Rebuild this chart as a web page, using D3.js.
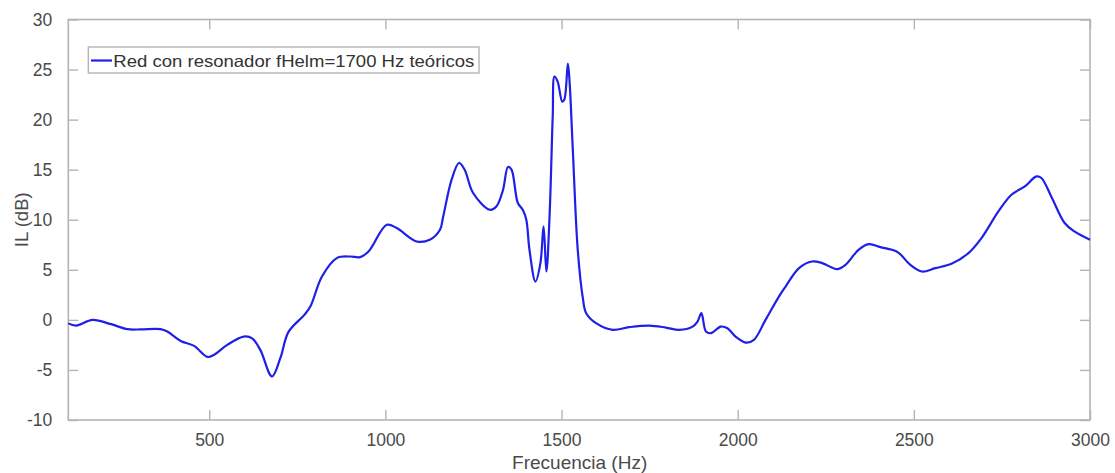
<!DOCTYPE html>
<html>
<head>
<meta charset="utf-8">
<script src="https://cdn.jsdelivr.net/npm/d3@7"></script>
<style>
  html, body { margin: 0; padding: 0; background: #fff; }
  svg { display: block; }
  text { font-family: Arial, "Liberation Sans", sans-serif; }
</style>
</head>
<body>
<svg id="chart" width="1115" height="473"></svg>
<script>
// Insertion loss of the network with a Helmholtz resonator
const freqHz = [100,122,169,221,268,306,362,381,419,457,495,513,551,598,622,645,678,702,725,770,787,820,862,900,928,952,1004,1032,1089,1126,1155,1164,1188,1209,1225,1249,1296,1315,1334,1348,1358,1376,1390,1400,1409,1426,1440,1449,1457,1466,1475,1480,1489,1502,1508,1518,1523,1532,1546,1560,1570,1598,1645,1692,1749,1796,1834,1872,1886,1897,1910,1924,1952,1971,1994,2023,2046,2079,2117,2136,2174,2211,2240,2282,2306,2343,2372,2405,2438,2457,2490,2523,2561,2607,2655,2692,2740,2777,2815,2848,2862,2890,2928,2956,3000];
const ilDb = [-0.35,-0.57,0.0,-0.43,-0.93,-0.95,-0.93,-1.17,-2.1,-2.6,-3.7,-3.5,-2.5,-1.67,-1.85,-3.0,-5.65,-3.8,-1.2,0.5,1.33,4.33,6.17,6.33,6.27,6.83,9.5,9.17,7.83,8.0,9.0,10.3,14.0,15.67,15.0,12.67,11.0,11.33,13.0,15.27,15.0,11.67,11.0,10.0,7.0,3.83,5.67,9.33,4.83,10.33,20.33,24.3,23.8,21.8,22.0,25.6,23.67,17.0,7.0,2.3,0.67,-0.33,-1.0,-0.73,-0.57,-0.77,-1.0,-0.67,-0.17,0.67,-1.17,-1.33,-0.67,-0.83,-1.67,-2.27,-2.0,0.0,2.33,3.33,5.17,5.83,5.67,5.07,5.5,7.0,7.57,7.27,7.0,6.7,5.5,4.83,5.17,5.6,6.67,8.17,10.83,12.5,13.33,14.33,14.17,12.33,9.67,8.83,8.0];

const xTicks = [500, 1000, 1500, 2000, 2500, 3000];
const yTicks = [-10, -5, 0, 5, 10, 15, 20, 25, 30];
const seriesName = "Red con resonador fHelm=1700 Hz teóricos";
const xTitle = "Frecuencia (Hz)";
const yTitle = "IL (dB)";

const svg = d3.select("#chart");
const plotL = 68.3, plotR = 1090, plotT = 19.5, plotB = 420;

const x = d3.scaleLinear().domain([100, 3000]).range([plotL, plotR]);
const y = d3.scaleLinear().domain([-10, 30]).range([plotB, plotT]);

const axisColor = "#b4b4b4";
const labelColor = "#4a4a4a";
const tickLen = 10;
const plain = d => String(d);

// box
svg.append("rect")
  .attr("x", plotL).attr("y", plotT)
  .attr("width", plotR - plotL).attr("height", plotB - plotT)
  .attr("fill", "none").attr("stroke", axisColor).attr("stroke-width", 1.6);

// x axis (bottom) and mirrored ticks on top
const xAxis = d3.axisBottom(x).tickValues(xTicks).tickFormat(plain)
  .tickSizeInner(-tickLen).tickSizeOuter(0).tickPadding(14);
const gx = svg.append("g").attr("transform", `translate(0,${plotB})`).call(xAxis);
gx.select(".domain").remove();
gx.selectAll(".tick line").attr("stroke", axisColor).attr("stroke-width", 1.4);
gx.selectAll(".tick text").attr("fill", labelColor).style("font-size", "17.5px").attr("font-family", "Arial, 'Liberation Sans', sans-serif");

const gxTop = svg.append("g").attr("transform", `translate(0,${plotT})`)
  .call(d3.axisTop(x).tickValues(xTicks).tickSizeInner(-tickLen).tickSizeOuter(0).tickFormat(""));
gxTop.select(".domain").remove();
gxTop.selectAll(".tick line").attr("stroke", axisColor).attr("stroke-width", 1.4);

// y axis (left) and mirrored ticks on right
const yAxis = d3.axisLeft(y).tickValues(yTicks).tickFormat(plain)
  .tickSizeInner(-tickLen).tickSizeOuter(0).tickPadding(16);
const gy = svg.append("g").attr("transform", `translate(${plotL},0)`).call(yAxis);
gy.select(".domain").remove();
gy.selectAll(".tick line").attr("stroke", axisColor).attr("stroke-width", 1.4);
gy.selectAll(".tick text").attr("fill", labelColor).style("font-size", "17.5px").attr("font-family", "Arial, 'Liberation Sans', sans-serif");

const gyRight = svg.append("g").attr("transform", `translate(${plotR},0)`)
  .call(d3.axisRight(y).tickValues(yTicks).tickSizeInner(-tickLen).tickSizeOuter(0).tickFormat(""));
gyRight.select(".domain").remove();
gyRight.selectAll(".tick line").attr("stroke", axisColor).attr("stroke-width", 1.4);

// axis titles
svg.append("text")
  .attr("x", (plotL + plotR) / 2 + 0.5).attr("y", 469)
  .attr("text-anchor", "middle").attr("fill", labelColor)
  .style("font-size", "19px").text(xTitle);

svg.append("text")
  .attr("transform", `translate(28,${(plotT + plotB) / 2}) rotate(-90)`)
  .attr("text-anchor", "middle").attr("fill", labelColor)
  .style("font-size", "18.5px").text(yTitle);

// data line
const pts = freqHz.map((f, i) => [f, ilDb[i]]);
const line = d3.line().x(d => x(d[0])).y(d => y(d[1])).curve(d3.curveCatmullRom.alpha(0.5));
svg.append("path")
  .datum(pts)
  .attr("d", line)
  .attr("fill", "none")
  .attr("stroke", "#1f1fe8")
  .attr("stroke-width", 2.2)
  .attr("stroke-linejoin", "round");

// legend
const lg = svg.append("g");
lg.append("rect")
  .attr("x", 88.3).attr("y", 47).attr("width", 390.7).attr("height", 26)
  .attr("fill", "#fff").attr("stroke", axisColor).attr("stroke-width", 1.4);
lg.append("line")
  .attr("x1", 91).attr("x2", 112).attr("y1", 60.5).attr("y2", 60.5)
  .attr("stroke", "#1f1fe8").attr("stroke-width", 2.2);
lg.append("text")
  .attr("x", 113.3).attr("y", 66.5)
  .attr("fill", "#333")
  .attr("textLength", 361).attr("lengthAdjust", "spacingAndGlyphs")
  .style("font-size", "16.5px").text(seriesName);
</script>
</body>
</html>
